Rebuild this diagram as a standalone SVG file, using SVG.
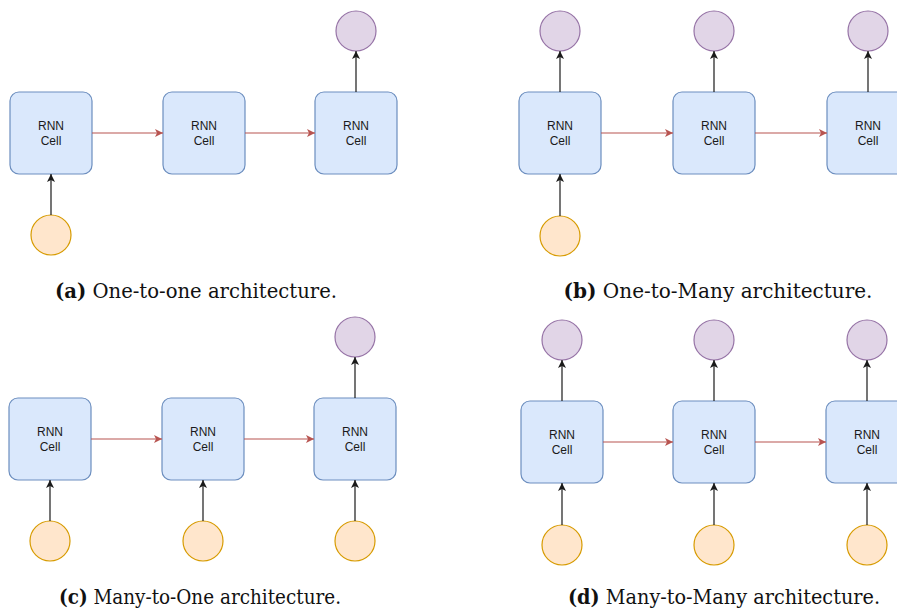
<svg xmlns="http://www.w3.org/2000/svg" width="897" height="614" viewBox="0 0 897 614">
  <style>
    .cell { fill: #dae8fc; stroke: #6c8ebf; stroke-width: 1.2; }
    .in { fill: #ffe6cc; stroke: #d79b00; stroke-width: 1.2; }
    .out { fill: #e1d5e7; stroke: #9673a6; stroke-width: 1.2; }
    .lbl { font-family: "Liberation Sans", Arial, sans-serif; font-size: 12px; fill: #1a1a1a; text-anchor: middle; }
    .io { stroke: #1a1a1a; stroke-width: 1.2; fill: none; marker-end: url(#ab); }
    .rec { stroke: #b85450; stroke-width: 1.2; fill: none; marker-end: url(#ar); }
    .cap { font-family: "DejaVu Serif", "Liberation Serif", serif; font-size: 19.5px; fill: #111; text-anchor: middle; }
    .cap .b { font-weight: bold; }
  </style>
  <defs>
    <marker id="ab" markerUnits="userSpaceOnUse" markerWidth="10" markerHeight="10" refX="9" refY="4.5" orient="auto">
      <path d="M1,0.5 L9,4.5 L1,8.5 L3,4.5 z" fill="#1a1a1a"/>
    </marker>
    <marker id="ar" markerUnits="userSpaceOnUse" markerWidth="10" markerHeight="10" refX="9" refY="4.5" orient="auto">
      <path d="M1,0.5 L9,4.5 L1,8.5 L3,4.5 z" fill="#b85450"/>
    </marker>
  </defs>

  <!-- (a) one-to-one -->
  <g id="a-cell1"><rect class="cell" x="10" y="92" width="82" height="82" rx="9"/><text class="lbl" x="51" y="130">RNN</text><text class="lbl" x="51" y="145">Cell</text></g>
  <g id="a-cell2"><rect class="cell" x="163" y="92" width="82" height="82" rx="9"/><text class="lbl" x="204" y="130">RNN</text><text class="lbl" x="204" y="145">Cell</text></g>
  <g id="a-cell3"><rect class="cell" x="315" y="92" width="82" height="82" rx="9"/><text class="lbl" x="356" y="130">RNN</text><text class="lbl" x="356" y="145">Cell</text></g>
  <g id="a-in1"><circle class="in" cx="51" cy="235" r="20"/></g>
  <g id="a-out3"><circle class="out" cx="356" cy="31" r="20"/></g>

  <!-- (b) one-to-many -->
  <g id="b-cell1"><rect class="cell" x="519" y="92" width="82" height="82" rx="9"/><text class="lbl" x="560" y="130">RNN</text><text class="lbl" x="560" y="145">Cell</text></g>
  <g id="b-cell2"><rect class="cell" x="673" y="92" width="82" height="82" rx="9"/><text class="lbl" x="714" y="130">RNN</text><text class="lbl" x="714" y="145">Cell</text></g>
  <g id="b-cell3"><rect class="cell" x="827" y="92" width="82" height="82" rx="9"/><text class="lbl" x="868" y="130">RNN</text><text class="lbl" x="868" y="145">Cell</text></g>
  <g id="b-in1"><circle class="in" cx="560" cy="236" r="20"/></g>
  <g id="b-out1"><circle class="out" cx="560" cy="31" r="20"/></g>
  <g id="b-out2"><circle class="out" cx="714" cy="31" r="20"/></g>
  <g id="b-out3"><circle class="out" cx="868" cy="31" r="20"/></g>

  <!-- (c) many-to-one -->
  <g id="c-cell1"><rect class="cell" x="9" y="398" width="82" height="82" rx="9"/><text class="lbl" x="50" y="436">RNN</text><text class="lbl" x="50" y="451">Cell</text></g>
  <g id="c-cell2"><rect class="cell" x="162" y="398" width="82" height="82" rx="9"/><text class="lbl" x="203" y="436">RNN</text><text class="lbl" x="203" y="451">Cell</text></g>
  <g id="c-cell3"><rect class="cell" x="314" y="398" width="82" height="82" rx="9"/><text class="lbl" x="355" y="436">RNN</text><text class="lbl" x="355" y="451">Cell</text></g>
  <g id="c-in1"><circle class="in" cx="50" cy="541" r="20"/></g>
  <g id="c-in2"><circle class="in" cx="203" cy="541" r="20"/></g>
  <g id="c-in3"><circle class="in" cx="355" cy="541" r="20"/></g>
  <g id="c-out3"><circle class="out" cx="355" cy="337" r="20"/></g>

  <!-- (d) many-to-many -->
  <g id="d-cell1"><rect class="cell" x="521" y="401" width="82" height="82" rx="9"/><text class="lbl" x="562" y="439">RNN</text><text class="lbl" x="562" y="454">Cell</text></g>
  <g id="d-cell2"><rect class="cell" x="673" y="401" width="82" height="82" rx="9"/><text class="lbl" x="714" y="439">RNN</text><text class="lbl" x="714" y="454">Cell</text></g>
  <g id="d-cell3"><rect class="cell" x="826" y="401" width="82" height="82" rx="9"/><text class="lbl" x="867" y="439">RNN</text><text class="lbl" x="867" y="454">Cell</text></g>
  <g id="d-in1"><circle class="in" cx="562" cy="545" r="20"/></g>
  <g id="d-in2"><circle class="in" cx="714" cy="545" r="20"/></g>
  <g id="d-in3"><circle class="in" cx="867" cy="545" r="20"/></g>
  <g id="d-out1"><circle class="out" cx="562" cy="340" r="20"/></g>
  <g id="d-out2"><circle class="out" cx="714" cy="340" r="20"/></g>
  <g id="d-out3"><circle class="out" cx="867" cy="340" r="20"/></g>

  <g id="connectors">
    <!-- (a) -->
    <line class="io" x1="51" y1="215" x2="51" y2="174"/>
    <line class="io" x1="356" y1="92" x2="356" y2="51"/>
    <line class="rec" x1="92" y1="133" x2="163" y2="133"/>
    <line class="rec" x1="245" y1="133" x2="315" y2="133"/>
    <!-- (b) -->
    <line class="io" x1="560" y1="216" x2="560" y2="174"/>
    <line class="io" x1="560" y1="92" x2="560" y2="51"/>
    <line class="io" x1="714" y1="92" x2="714" y2="51"/>
    <line class="io" x1="868" y1="92" x2="868" y2="51"/>
    <line class="rec" x1="601" y1="133" x2="673" y2="133"/>
    <line class="rec" x1="755" y1="133" x2="827" y2="133"/>
    <!-- (c) -->
    <line class="io" x1="50" y1="521" x2="50" y2="480"/>
    <line class="io" x1="203" y1="521" x2="203" y2="480"/>
    <line class="io" x1="355" y1="521" x2="355" y2="480"/>
    <line class="io" x1="355" y1="398" x2="355" y2="357"/>
    <line class="rec" x1="91" y1="439" x2="162" y2="439"/>
    <line class="rec" x1="244" y1="439" x2="314" y2="439"/>
    <!-- (d) -->
    <line class="io" x1="562" y1="525" x2="562" y2="483"/>
    <line class="io" x1="714" y1="525" x2="714" y2="483"/>
    <line class="io" x1="867" y1="525" x2="867" y2="483"/>
    <line class="io" x1="562" y1="401" x2="562" y2="360"/>
    <line class="io" x1="714" y1="401" x2="714" y2="360"/>
    <line class="io" x1="867" y1="401" x2="867" y2="360"/>
    <line class="rec" x1="603" y1="442" x2="673" y2="442"/>
    <line class="rec" x1="755" y1="442" x2="826" y2="442"/>
  </g>

  <!-- captions -->
  <text class="cap" x="196" y="298" textLength="282" lengthAdjust="spacingAndGlyphs"><tspan class="b">(a)</tspan> One-to-one architecture.</text>
  <text class="cap" x="718" y="298" textLength="309" lengthAdjust="spacingAndGlyphs"><tspan class="b">(b)</tspan> One-to-Many architecture.</text>
  <text class="cap" x="200" y="604" textLength="282" lengthAdjust="spacingAndGlyphs"><tspan class="b">(c)</tspan> Many-to-One architecture.</text>
  <text class="cap" x="724" y="604" textLength="312" lengthAdjust="spacingAndGlyphs"><tspan class="b">(d)</tspan> Many-to-Many architecture.</text>
</svg>
